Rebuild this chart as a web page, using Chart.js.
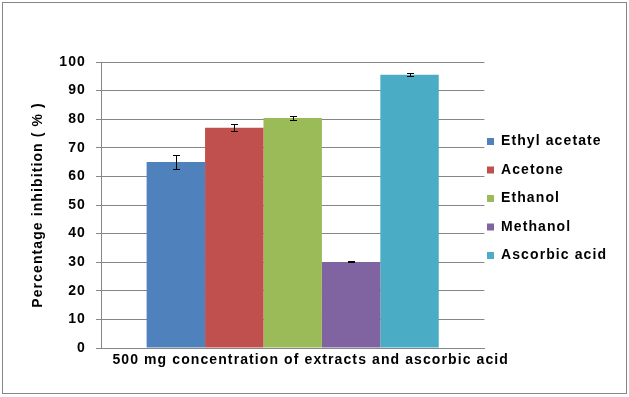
<!DOCTYPE html>
<html>
<head>
<meta charset="utf-8">
<script src="https://cdn.jsdelivr.net/npm/chart.js@4"></script>
<style>
  html, body { margin: 0; padding: 0; background: #fff; }
  #wrap { position: relative; width: 629px; height: 397px; }
  #frame { position: absolute; left: 2px; top: 2px; width: 623px; height: 390px; border: 1px solid #868686; pointer-events: none; }
</style>
</head>
<body>
<div id="wrap">
  <canvas id="chart" width="629" height="397"></canvas>
  <div id="frame"></div>
</div>
<script>
const categories = ['500 mg concentration of extracts and ascorbic acid'];
const seriesNames = ['Ethyl acetate', 'Acetone', 'Ethanol', 'Methanol', 'Ascorbic acid'];
const seriesValues = [65.0, 77.0, 80.4, 30.1, 95.5];
const seriesErrors = [2.5, 1.2, 0.7, 0.2, 0.5];
const seriesColors = ['#4F81BD', '#C0504D', '#9BBB59', '#8064A2', '#4BACC6'];

const ctx = document.getElementById('chart').getContext('2d');
Chart.defaults.font.family = '"Liberation Sans", Arial, sans-serif';
Chart.defaults.font.weight = 'bold';
Chart.defaults.font.size = 14;
Chart.defaults.color = '#000';

const datasets = seriesNames.map((name, i) => ({
    label: name,
    data: [seriesValues[i]],
    errors: [seriesErrors[i]],
    backgroundColor: seriesColors[i],
    borderWidth: 0
}));

// the Excel text is drawn wide, so space the letters out a bit
const wideText = {
    id: 'wideText',
    beforeUpdate(chart) { chart.ctx.letterSpacing = '1.1px'; },
    beforeDraw(chart) { chart.ctx.letterSpacing = '1.1px'; }
};

// draw error bars from the scales
const errorBars = {
    id: 'errorBars',
    afterDatasetsDraw(chart) {
        const c = chart.ctx;
        const y = chart.scales.y;
        c.save();
        c.strokeStyle = '#000';
        c.lineWidth = 1;
        chart.data.datasets.forEach((ds, i) => {
            chart.getDatasetMeta(i).data.forEach((bar, j) => {
                const v = ds.data[j];
                const e = ds.errors[j];
                const x = Math.round(bar.x) + 0.5;
                const top = Math.round(y.getPixelForValue(v + e)) + 0.5;
                const bot = Math.round(y.getPixelForValue(v - e)) + 0.5;
                c.beginPath();
                c.moveTo(x, top); c.lineTo(x, bot);
                c.moveTo(x - 3.5, top); c.lineTo(x + 3.5, top);
                c.moveTo(x - 3.5, bot); c.lineTo(x + 3.5, bot);
                c.stroke();
            });
        });
        c.restore();
    }
};

// nudge the legend next to the plot like the Excel original
const legendShift = {
    id: 'legendShift',
    afterLayout(chart) {
        const lg = chart.legend;
        const dx = 487 - (lg.left + lg.options.labels.padding);
        lg.left += dx; lg.right += dx;
        lg.top -= 31; lg.bottom -= 31;
    }
};

chart = new Chart(ctx, {
    type: 'bar',
    data: { labels: categories, datasets: datasets },
    plugins: [wideText, errorBars, legendShift],
    options: {
        animation: false,
        responsive: false,
        layout: { padding: { top: 62, left: 0, right: 0, bottom: 0 } },
        datasets: { bar: { categoryPercentage: 0.762, barPercentage: 1 } },
        plugins: {
            tooltip: { enabled: false },
            legend: {
                position: 'right',
                labels: {
                    boxWidth: 7,
                    boxHeight: 7,
                    padding: 14.5,
                    color: '#000'
                }
            }
        },
        scales: {
            x: {
                grid: { display: false, drawTicks: false },
                border: { display: true, color: '#868686' },
                ticks: { padding: 4, labelOffset: 18, color: '#000', maxRotation: 0 },
                afterFit(scale) { scale.height = 49; }
            },
            y: {
                min: 0,
                max: 100,
                ticks: { stepSize: 10, padding: 10, color: '#000' },
                grid: { color: '#868686', tickLength: 5 },
                border: { color: '#868686' },
                title: {
                    display: true,
                    text: 'Percentage inhibition ( % )',
                    color: '#000',
                    padding: { top: 30, bottom: 0 }
                },
                afterFit(scale) { scale.width = 101; }
            }
        }
    }
});
</script>
</body>
</html>
